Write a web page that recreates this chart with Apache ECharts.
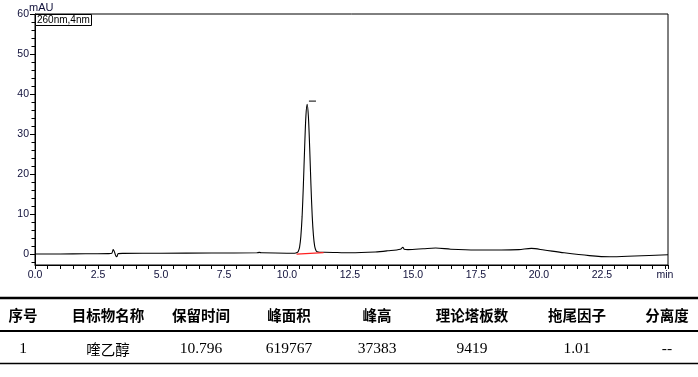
<!DOCTYPE html>
<html>
<head>
<meta charset="utf-8">
<script src="https://cdn.jsdelivr.net/npm/echarts@6/dist/echarts.min.js"></script>
<style>
html,body{margin:0;padding:0;background:#fff;}
#chart{width:698px;height:377px;}
</style>
</head>
<body>
<div id="chart"></div>
<script>
// Chromatogram signal (time in min, absorbance in mAU)
const times = [0, 1.0, 2.0, 2.9, 3.05, 3.1, 3.15, 3.2, 3.25, 3.3, 3.5, 5.0, 7.0, 8.8, 8.9, 9.0, 10.0, 10.3,
  10.4, 10.45, 10.5, 10.55, 10.6, 10.65, 10.7, 10.75, 10.8, 10.85, 10.9, 10.95, 11.0, 11.05, 11.1, 11.15, 11.2,
  11.3, 11.5, 12.5, 13.5, 14.0, 14.5, 14.6, 14.65, 14.8, 15.4, 15.9, 16.5, 17.5, 18.5, 19.2, 19.7, 20.2,
  21.0, 22.0, 22.8, 23.8, 25.12];
const signal = [0.0, 0.0, 0.05, 0.1, 0.2, 1.1, 0.6, -0.4, -0.7, 0.1, 0.15, 0.2, 0.25, 0.3, 0.4, 0.3, 0.2, 0.2,
  0.35, 0.7, 1.7, 4.4, 9.4, 17.2, 26.5, 34.4, 37.4, 34.3, 26.6, 17.4, 9.6, 4.6, 1.9, 0.9, 0.55,
  0.45, 0.45, 0.3, 0.5, 0.8, 1.2, 1.7, 1.2, 1.1, 1.3, 1.5, 1.2, 1.0, 1.0, 1.1, 1.4, 1.0,
  0.3, -0.4, -0.7, -0.5, -0.2];
// Integration baseline under the main peak
const baseTimes = [10.38, 11.45];
const baseValues = [-0.05, 0.35];
// Peak-top marker
const markTimes = [10.87, 11.15];
const markValues = [38.2, 38.2];

const xTickLabels = [0, 2.5, 5, 7.5, 10, 12.5, 15, 17.5, 20, 22.5, 25];
const yTickLabels = [0, 10, 20, 30, 40, 50, 60];
const yMinorTicks = [-2, 2, 4, 6, 8, 12, 14, 16, 18, 22, 24, 26, 28, 32, 34, 36, 38, 42, 44, 46, 48, 52, 54, 56, 58];

// Table
const tableHeaders = ['序号', '目标物名称', '保留时间', '峰面积', '峰高', '理论塔板数', '拖尾因子', '分离度'];
const tableRow = ['1', '喹乙醇', '10.796', '619767', '37383', '9419', '1.01', '--'];

const signalData = times.map((t, i) => [t, signal[i]]);
const baseData = baseTimes.map((t, i) => [t, baseValues[i]]);
const markData = markTimes.map((t, i) => [t, markValues[i]]);

const colX = [23, 108, 201, 289, 377, 472, 577, 667];
const labelColor = '#10103a';
const fontFam = '"Liberation Sans", Arial, sans-serif';

const graphics = [];
// y-axis unit
graphics.push({type: 'text', left: 29, top: 2, style: {text: 'mAU', font: '11px ' + fontFam, fill: labelColor}});
// wavelength box
graphics.push({type: 'rect', shape: {x: 35.5, y: 14.5, width: 56, height: 11}, style: {fill: '#fff', stroke: '#000', lineWidth: 1}, z: 10});
graphics.push({type: 'text', x: 37, y: 15.5, style: {text: '260nm,4nm', font: '10px ' + fontFam, fill: '#000'}, z: 11});
// table lines
graphics.push({type: 'line', shape: {x1: 0, y1: 298, x2: 698, y2: 298}, style: {stroke: '#000', lineWidth: 2.5}});
graphics.push({type: 'line', shape: {x1: 0, y1: 331, x2: 698, y2: 331}, style: {stroke: '#000', lineWidth: 2}});
graphics.push({type: 'line', shape: {x1: 0, y1: 363.5, x2: 698, y2: 363.5}, style: {stroke: '#000', lineWidth: 1.3}});
tableHeaders.forEach((h, i) => {
  graphics.push({type: 'text', x: colX[i], y: 315, style: {text: h, font: 'bold 14.5px "Noto Sans CJK SC"', fill: '#000', align: 'center', verticalAlign: 'middle'}});
});
tableRow.forEach((v, i) => {
  const isCJK = /[\u4e00-\u9fff]/.test(v);
  graphics.push({type: 'text', x: colX[i], y: 349, style: {text: v, font: isCJK ? '14.5px "Noto Sans CJK SC"' : '15.5px "Liberation Serif", serif', fill: '#000', align: 'center', verticalAlign: 'middle'}});
});

const chart = echarts.init(document.getElementById('chart'), null, {renderer: 'canvas'});
chart.setOption({
  animation: false,
  backgroundColor: '#fff',
  grid: {left: 35, right: 30, top: 14, bottom: 112, show: true, borderColor: '#000', borderWidth: 1, containLabel: false},
  xAxis: {
    type: 'value', min: 0, max: 25.12, interval: 2.5,
    axisLine: {show: true, onZero: false, lineStyle: {color: '#000', width: 1}},
    axisTick: {show: true, length: 4, lineStyle: {color: '#000'}},
    minorTick: {show: true, splitNumber: 5, length: 4, lineStyle: {color: '#000'}},
    splitLine: {show: false},
    axisLabel: {
      color: labelColor, fontSize: 10.5, fontFamily: fontFam, margin: 5, showMaxLabel: true,
      formatter: v => {
        if (Math.abs(v - 25) < 1e-6) return 'min';
        if (!xTickLabels.some(t => Math.abs(t - v) < 1e-6)) return '';
        return v.toFixed(1);
      }
    }
  },
  yAxis: [{
    type: 'value', min: -2.75, max: 60,
    axisLine: {show: true, onZero: false, lineStyle: {color: '#000', width: 1}},
    axisTick: {show: true, length: 5, customValues: yTickLabels, lineStyle: {color: '#000'}},
    splitLine: {show: false},
    axisLabel: {customValues: yTickLabels, color: labelColor, fontSize: 10.5, fontFamily: fontFam, margin: 6}
  }, {
    type: 'value', min: -2.75, max: 60, position: 'left',
    axisLine: {show: false},
    axisTick: {show: true, length: 3.5, customValues: yMinorTicks, lineStyle: {color: '#000'}},
    splitLine: {show: false},
    axisLabel: {show: false}
  }],
  series: [{
    type: 'line', data: signalData, showSymbol: false, smooth: 0.3,
    lineStyle: {color: '#000', width: 1.1}, z: 3
  }, {
    type: 'line', data: baseData, showSymbol: false,
    lineStyle: {color: '#ff2020', width: 1.2}, z: 4
  }, {
    type: 'line', data: markData, showSymbol: false,
    lineStyle: {color: '#333', width: 1.2}, z: 4
  }],
  graphic: graphics
});
</script>
</body>
</html>
